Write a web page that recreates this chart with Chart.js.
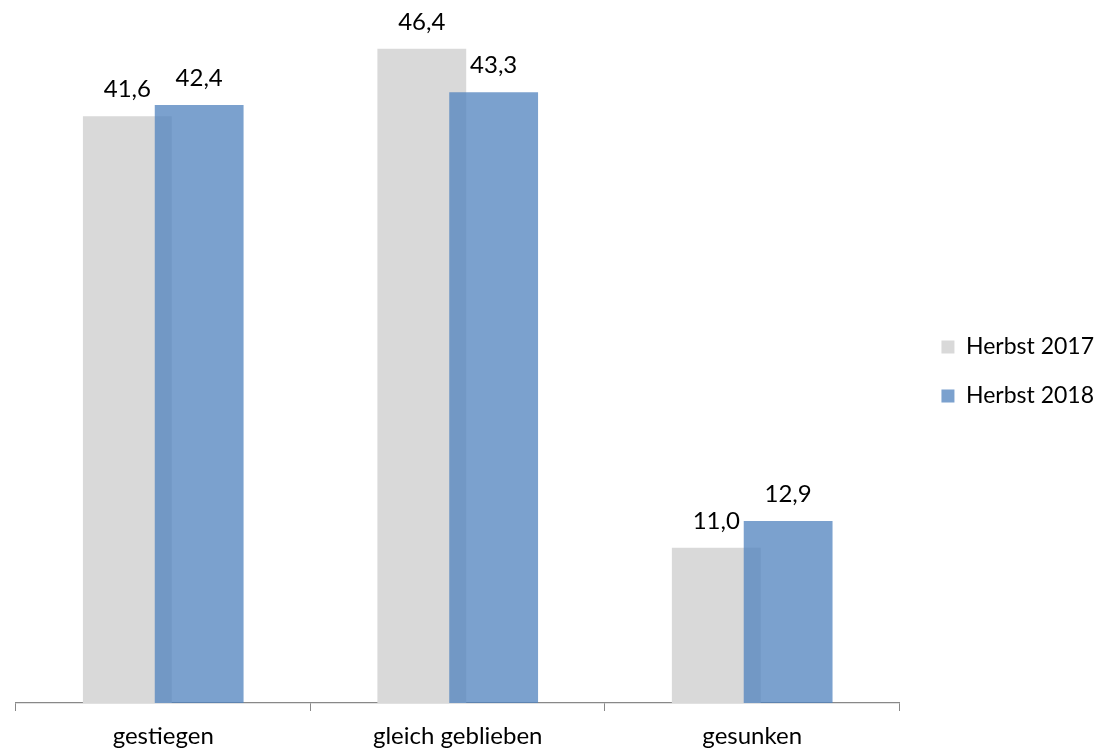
<!DOCTYPE html>
<html>
<head>
<meta charset="utf-8">
<script src="https://cdn.jsdelivr.net/npm/chart.js@4/dist/chart.umd.min.js"></script>
<style>
html,body{margin:0;padding:0;background:#fff;}
#wrap{width:1097px;height:751px;}
</style>
</head>
<body>
<div id="wrap"><canvas id="c" width="1097" height="751"></canvas></div>
<script>
const categories = ["gestiegen", "gleich geblieben", "gesunken"];
const seriesNames = ["Herbst 2017", "Herbst 2018"];
const values2017 = [41.6, 46.4, 11.0];
const values2018 = [42.4, 43.3, 12.9];

const FONT = "Lato, 'Open Sans', sans-serif";
const FSIZE = 24;

// draw dataset 1 (blue) on top of dataset 0 (gray)
let lateDraw = false;
const orderPlugin = {
  id: 'drawOrder',
  beforeDatasetDraw(chart, args) {
    if (args.index === 1 && !lateDraw) return false;
  },
  afterDatasetDraw(chart, args) {
    if (args.index === 0) {
      lateDraw = true;
      chart.getDatasetMeta(1).controller.draw();
      lateDraw = false;
    }
  }
};

// nudge the legend block slightly upwards
const legendShift = {
  id: 'legendShift',
  afterLayout(chart) {
    const lg = chart.legend;
    if (lg) { lg.bottom -= 18; lg.height -= 18; }
  }
};

const labelPlugin = {
  id: 'valueLabels',
  afterDatasetsDraw(chart) {
    const ctx = chart.ctx;
    ctx.save();
    ctx.font = FSIZE + "px " + FONT;
    ctx.fillStyle = "#000";
    ctx.textAlign = "center";
    ctx.textBaseline = "alphabetic";
    chart.data.datasets.forEach((ds, i) => {
      const meta = chart.getDatasetMeta(i);
      meta.data.forEach((bar, j) => {
        const txt = ds.data[j].toFixed(1).replace('.', ',');
        ctx.fillText(txt, bar.x, bar.y - 19);
      });
    });
    ctx.restore();
  }
};

new Chart(document.getElementById('c'), {
  type: 'bar',
  data: {
    labels: categories,
    datasets: [
      { label: seriesNames[0], data: values2017, backgroundColor: '#D9D9D9', borderWidth: 0 },
      { label: seriesNames[1], data: values2018, backgroundColor: 'rgba(79,129,189,0.75)', borderWidth: 0 }
    ]
  },
  options: {
    responsive: false,
    animation: false,
    categoryPercentage: 0.488,
    barPercentage: 1.236,
    layout: { padding: { top: 0, left: 16, right: -7, bottom: -10 } },
    plugins: {
      legend: {
        position: 'right',
        align: 'center',
        labels: {
          boxWidth: 13, boxHeight: 13, padding: 26,
          color: '#000',
          font: { family: FONT, size: 23 }
        }
      },
      tooltip: { enabled: false }
    },
    scales: {
      x: {
        grid: { offset: true, drawOnChartArea: false, drawTicks: true, tickLength: 8, color: '#888', lineWidth: 1 },
        border: { color: '#888', width: 1.3 },
        ticks: { color: '#000', font: { family: FONT, size: FSIZE, lineHeight: 1.0 }, padding: 13 }
      },
      y: {
        display: false,
        min: 0,
        max: 49.85
      },
      spacer: {
        type: 'linear',
        position: 'right',
        display: true,
        grid: { display: false },
        border: { display: false },
        ticks: { display: false },
        afterFit(scale) { scale.width = 16; }
      }
    }
  },
  plugins: [orderPlugin, legendShift, labelPlugin]
});
</script>
</body>
</html>
